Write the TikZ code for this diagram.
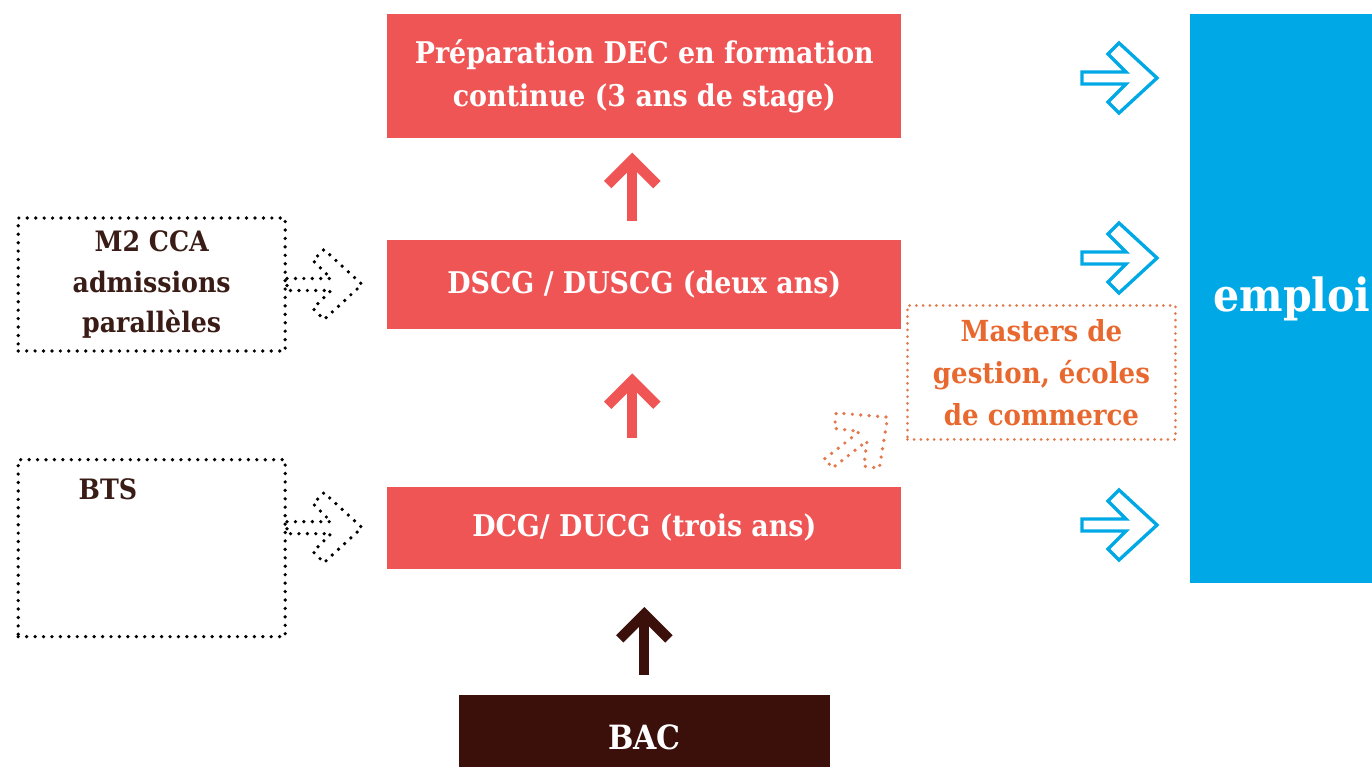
\documentclass[tikz,border=0pt]{standalone}
\usepackage{fontspec}
\setmainfont{DejaVu Serif}[FakeStretch=0.9]
\usetikzlibrary{positioning,arrows.meta}

\definecolor{cursusred}{HTML}{F05556}
\definecolor{bacbrown}{HTML}{3B0F0A}
\definecolor{emploiblue}{HTML}{00A9E6}
\definecolor{inkbrown}{HTML}{3A1C16}
\definecolor{mastersorange}{HTML}{E8692F}
\definecolor{dotorange}{HTML}{E27A4E}

\tikzset{
  redbox/.style={fill=cursusred, text=white, font=\bfseries\fontsize{17}{25}\selectfont, align=center, minimum width=10.28cm, inner sep=0pt},
  dotline/.style={line width=2.1pt, dash pattern=on 0pt off 4.8pt, line cap=round},
  dotbox/.style={dotline, draw=black, text=inkbrown, font=\bfseries\fontsize{16}{23}\selectfont, align=center, minimum width=5.34cm, inner sep=0pt},
  uparrow/.style={line width=5.9pt, -{Straight Barb[length=14pt, width=28pt]}},
  pics/hollow arrow/.style={code={
    \draw[pic actions] (0,-6) -- (44,-6) -- (26,-24) -- (37,-35) -- (75,0) -- (37,35) -- (26,24) -- (44,6) -- (0,6) -- cycle;
  }}
}

\begin{document}
\begin{tikzpicture}[x=0.02cm, y=-0.02cm]
\useasboundingbox (0,0) rectangle (1372,767);

% main path
\node[redbox, minimum height=2.48cm, anchor=north west] (prep) at (387,14) {Préparation DEC en formation\\continue (3 ans de stage)};
\node[redbox, minimum height=1.78cm, below=2.02cm of prep] (dscg) {DSCG / DUSCG (deux ans)};
\node[redbox, minimum height=1.64cm, below=3.14cm of dscg] (dcg) {DCG/ DUCG (trois ans)};
\node[fill=bacbrown, text=white, font=\bfseries\fontsize{19}{25}\selectfont, minimum width=7.42cm, minimum height=1.68cm, inner sep=0pt, below=2.52cm of dcg] (bac) {BAC};

% side entries
\node[dotbox, minimum height=2.66cm, left=2cm of dscg] (m2) {M2 CCA\\admissions\\parallèles};
\node[dotbox, minimum height=3.54cm, left=2cm of dcg, yshift=-0.41cm,
      label={[anchor=north west, inner sep=0pt, xshift=1.24cm, yshift=-0.4cm, text=inkbrown, font=\bfseries\fontsize{16}{23}\selectfont]north west:BTS}] (bts) {};
\node[line width=1.7pt, dash pattern=on 0pt off 3.8pt, line cap=round, draw=dotorange, text=mastersorange, font=\bfseries\fontsize{16.5}{24}\selectfont, align=center, minimum width=5.36cm, minimum height=2.68cm, inner sep=0pt, anchor=north west] (masters) at (906,304) {Masters de\\gestion, écoles\\de commerce};

% emploi
\node[fill=emploiblue, text=white, font=\bfseries\fontsize{26}{30}\selectfont, align=left, text width=3.2cm, inner xsep=0.46cm, minimum height=11.38cm, anchor=north west] (emploi) at (1190,14) {emploi};

\path[uparrow]
([xshift=-0.24cm]dscg.north) edge [draw=cursusred, shorten <=0.38cm, shorten >=0.28cm] ([xshift=-0.24cm]prep.south)
([xshift=-0.24cm]dcg.north) edge [draw=cursusred, shorten <=0.96cm, shorten >=0.88cm] ([xshift=-0.24cm]dscg.south)
(bac.north) edge [draw=bacbrown, shorten <=0.4cm, shorten >=0.76cm] (dcg.south);

\pic[dotline, draw=black] at (m2.east |- dscg) {hollow arrow};
\pic[dotline, draw=black] at (bts.east |- dcg) {hollow arrow};
\pic[dotline, draw=dotorange, rotate=38] at ([xshift=-1.46cm, yshift=0.46cm]dcg.north east) {hollow arrow};

\foreach \yy in {78,258,525}
  \pic[draw=emploiblue, line width=1.9pt] at (1082,\yy) {hollow arrow};

\end{tikzpicture}
\end{document}
